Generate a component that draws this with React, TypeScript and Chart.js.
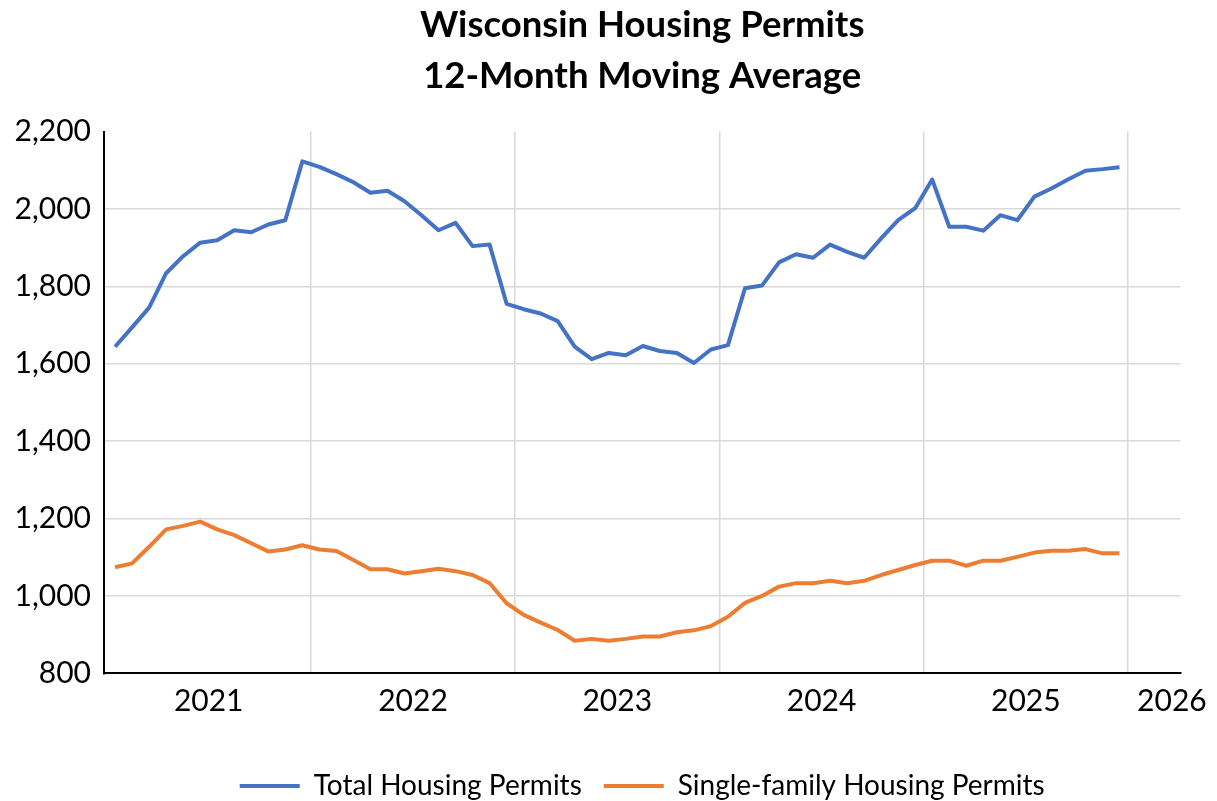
import React, { useEffect, useRef } from 'react';
import { Chart, registerables } from 'chart.js';

Chart.register(...registerables);

// ---- Data ----
const monthNames = ['Jan', 'Feb', 'Mar', 'Apr', 'May', 'Jun', 'Jul', 'Aug', 'Sep', 'Oct', 'Nov', 'Dec'];
const dataYears = [2021, 2022, 2023, 2024, 2025];
const months = dataYears.flatMap((y) => monthNames.map((m) => `${m} ${y}`));

const totalPermits = [
  1644, 1694, 1745, 1834, 1878, 1913, 1919, 1945, 1940, 1960, 1971, 2123,
  2109, 2090, 2069, 2042, 2047, 2020, 1984, 1945, 1964, 1904, 1908, 1755,
  1741, 1730, 1710, 1644, 1612, 1628, 1622, 1646, 1633, 1628, 1602, 1637,
  1648, 1795, 1802, 1862, 1883, 1874, 1908, 1889, 1874, 1924, 1971, 2002,
  2076, 1954, 1954, 1944, 1984, 1971, 2032, 2053, 2077, 2099, 2103, 2108,
];

const singleFamilyPermits = [
  1074, 1084, 1127, 1172, 1181, 1192, 1172, 1157, 1136, 1115, 1120, 1131,
  1120, 1116, 1093, 1069, 1069, 1058, 1064, 1070, 1064, 1054, 1033, 981,
  951, 931, 912, 884, 889, 884, 889, 895, 895, 906, 911, 922,
  946, 982, 1000, 1024, 1033, 1033, 1039, 1033, 1039, 1054, 1067, 1080,
  1091, 1091, 1078, 1091, 1091, 1101, 1112, 1117, 1117, 1121, 1110, 1110,
];

const yearLabels = ['2021', '2022', '2023', '2024', '2025', '2026'];
const titleLines = ['Wisconsin Housing Permits', '12-Month Moving Average'];
const seriesNames = ['Total Housing Permits', 'Single-family Housing Permits'];
const yTicks = [800, 1000, 1200, 1400, 1600, 1800, 2000, 2200];

const FONT = 'Lato';
const BLUE = '#4472C4';
const ORANGE = '#ED7D31';
const GRID = '#d9d9d9';

export default function App() {
  const canvasRef = useRef<HTMLCanvasElement>(null);

  useEffect(() => {
    document.body.style.margin = '0';
    const canvas = canvasRef.current;
    if (!canvas) return;

    // year boundaries (month index) -> gridlines; year middles -> labels
    const boundaryTicks = yearLabels.slice(1).map((_, k) => 12 * (k + 1) - 0.5);
    const labelAt = new Map<number, string>();
    yearLabels.forEach((y, k) => {
      labelAt.set(k < dataYears.length ? 12 * k + 5.5 : 62.08, y);
    });

    const chart = new Chart(canvas, {
      type: 'line',
      data: {
        datasets: [
          {
            label: seriesNames[0],
            data: months.map((_, i) => ({ x: i, y: totalPermits[i] })),
            borderColor: BLUE,
            backgroundColor: BLUE,
            borderWidth: 4,
            pointRadius: 0,
            tension: 0,
            borderJoinStyle: 'round',
          },
          {
            label: seriesNames[1],
            data: months.map((_, i) => ({ x: i, y: singleFamilyPermits[i] })),
            borderColor: ORANGE,
            backgroundColor: ORANGE,
            borderWidth: 4,
            pointRadius: 0,
            tension: 0,
            borderJoinStyle: 'round',
          },
        ],
      },
      options: {
        responsive: false,
        animation: false,
        events: [],
        layout: { padding: { left: 0, right: 32, top: 0, bottom: -9 } },
        scales: {
          x: {
            type: 'linear',
            position: 'bottom',
            min: -0.65,
            max: 62.58,
            afterBuildTicks: (scale: any) => {
              const vals = [...boundaryTicks, ...Array.from(labelAt.keys())].sort((a, b) => a - b);
              scale.ticks = vals.map((v) => ({ value: v }));
            },
            afterFit: (scale: any) => {
              scale.height = 76.7;
            },
            grid: {
              drawTicks: false,
              lineWidth: 1.5,
              color: (ctx: any) =>
                ctx.tick && boundaryTicks.includes(ctx.tick.value) ? GRID : 'rgba(0,0,0,0)',
            },
            border: { display: true, color: '#000', width: 2 },
            ticks: {
              autoSkip: false,
              maxRotation: 0,
              padding: 10,
              color: '#000',
              font: { family: FONT, size: 30 },
              callback: (v: any) => labelAt.get(Number(v)) ?? '',
            },
          },
          y: {
            min: 800,
            max: 2200,
            afterBuildTicks: (scale: any) => {
              scale.ticks = yTicks.map((v) => ({ value: v }));
            },
            afterFit: (scale: any) => {
              scale.width = 104;
            },
            grid: {
              drawTicks: false,
              lineWidth: 1.5,
              color: (ctx: any) =>
                ctx.tick && (ctx.tick.value === 2200 || ctx.tick.value === 800)
                  ? 'rgba(0,0,0,0)'
                  : GRID,
            },
            border: { display: true, color: '#000', width: 2 },
            ticks: {
              padding: 13,
              color: '#000',
              font: { family: FONT, size: 30 },
              callback: (v: any) => Number(v).toLocaleString('en-US'),
            },
          },
        },
        plugins: {
          tooltip: { enabled: false },
          title: {
            display: true,
            fullSize: false,
            text: titleLines,
            color: '#000',
            font: { family: FONT, size: 36.5, weight: 'bold', lineHeight: 51 / 36.5 },
            padding: { top: 0, bottom: 29.6 },
          },
          legend: {
            display: true,
            fullSize: false,
            position: 'bottom',
            labels: {
              color: '#000',
              font: { family: FONT, size: 28 },
              boxWidth: 60,
              boxHeight: 4,
              padding: 22,
              generateLabels: (c: any) =>
                Chart.defaults.plugins.legend.labels
                  .generateLabels(c)
                  .map((l: any) => ({ ...l, lineWidth: 0, fillStyle: l.strokeStyle })),
            },
          },
        },
      } as any,
    });

    return () => chart.destroy();
  }, []);

  return (
    <div style={{ position: 'absolute', left: 0, top: 0, width: 1217, height: 801, background: '#fff' }}>
      <canvas ref={canvasRef} width={1217} height={801} style={{ display: 'block' }} />
    </div>
  );
}
